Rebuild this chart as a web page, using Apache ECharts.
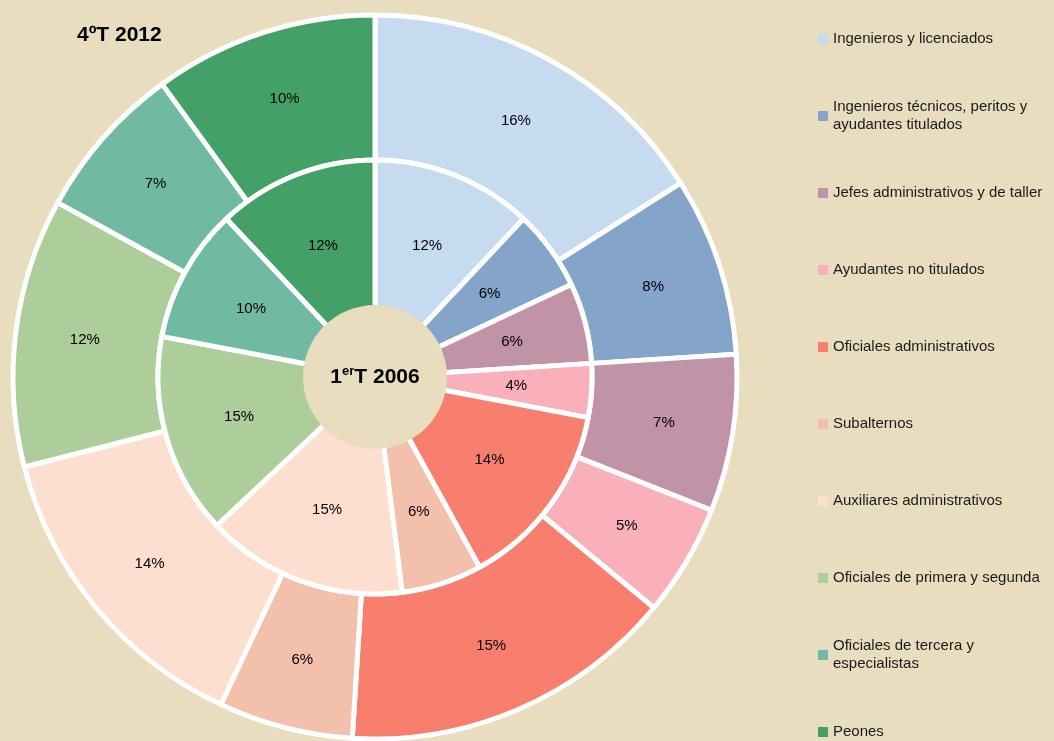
<!DOCTYPE html>
<html>
<head>
<meta charset="utf-8">
<script src="https://cdn.jsdelivr.net/npm/echarts@6/dist/echarts.min.js"></script>
<style>
  html, body { margin: 0; padding: 0; background: #E8DDBE; }
  #chart { width: 1054px; height: 741px; }
</style>
</head>
<body>
<div id="chart"></div>
<script>
// categorías (mismo orden en los dos anillos y en la leyenda)
const categories = [
  'Ingenieros y licenciados',
  'Ingenieros técnicos, peritos y\nayudantes titulados',
  'Jefes administrativos y de taller',
  'Ayudantes no titulados',
  'Oficiales administrativos',
  'Subalternos',
  'Auxiliares administrativos',
  'Oficiales de primera y segunda',
  'Oficiales de tercera y\nespecialistas',
  'Peones'
];
// anillo interior: 1erT 2006 (%)
const values2006 = [12, 6, 6, 4, 14, 6, 15, 15, 10, 12];
// anillo exterior: 4ºT 2012 (%)
const values2012 = [16, 8, 7, 5, 15, 6, 14, 12, 7, 10];
const colors = [
  '#C6DBF0', '#84A4CA', '#C093A6', '#F9B0BA', '#F87F6D',
  '#F2C0AB', '#FDDFCF', '#ADCD9A', '#70B9A3', '#43A067'
];

const bg = '#E8DDBE';
const center = [375, 377];
const font = 'Liberation Sans, Arial, sans-serif';

const toData = (vals) => vals.map((v, i) => ({
  name: categories[i],
  value: v,
  itemStyle: { color: colors[i] }
}));

const ringLabel = {
  show: true,
  position: 'inside',
  formatter: '{c}%',
  color: '#000',
  fontSize: 15,
  fontFamily: font
};

// una leyenda por elemento para mantener el espaciado uniforme
const legends = categories.map((name, i) => {
  const twoLines = name.indexOf('\n') >= 0;
  return {
    orient: 'vertical',
    left: 818,
    top: 39 + 77 * i - (twoLines ? 27 : 9),
    padding: 0,
    itemWidth: 10,
    itemHeight: 10,
    icon: 'rect',
    itemStyle: { borderWidth: 0 },
    data: [name],
    textStyle: {
      color: '#1a1a1a',
      fontSize: 15,
      lineHeight: 18,
      fontFamily: font,
      padding: twoLines ? [18, 0, 0, 0] : 0
    }
  };
});

const myChart = echarts.init(document.getElementById('chart'));
const option = {
  backgroundColor: bg,
  animation: false,
  title: {
    text: '4ºT 2012',
    left: 72,
    top: 20,
    textStyle: {
      color: '#000',
      fontSize: 21,
      fontWeight: 'bold',
      fontFamily: font
    }
  },
  legend: legends,
  series: [
    {
      name: '4ºT 2012',
      type: 'pie',
      center: center,
      radius: [217, 362],
      startAngle: 90,
      clockwise: true,
      avoidLabelOverlap: false,
      itemStyle: { borderColor: '#fff', borderWidth: 5 },
      label: ringLabel,
      labelLine: { show: false },
      emphasis: { scale: false },
      data: toData(values2012)
    },
    {
      name: '1erT 2006',
      type: 'pie',
      center: center,
      radius: [60, 217],
      startAngle: 90,
      clockwise: true,
      avoidLabelOverlap: false,
      itemStyle: { borderColor: '#fff', borderWidth: 5 },
      label: Object.assign({}, ringLabel),
      labelLine: { show: false },
      emphasis: { scale: false },
      data: toData(values2006)
    },
    {
      // círculo central con el rótulo del anillo interior
      type: 'pie',
      center: center,
      radius: [0, 72],
      z: 5,
      silent: true,
      itemStyle: { color: bg, borderWidth: 0 },
      label: {
        show: true,
        position: 'center',
        formatter: '{a|1}{b|er}{a|T 2006}',
        rich: {
          a: {
            fontSize: 21, fontWeight: 'bold', color: '#000', lineHeight: 24,
            fontFamily: font
          },
          b: {
            fontSize: 13, fontWeight: 'bold', color: '#000', lineHeight: 13,
            verticalAlign: 'top',
            fontFamily: font
          }
        }
      },
      labelLine: { show: false },
      data: [{ name: '1erT 2006', value: 1 }]
    }
  ]
};
myChart.setOption(option);
</script>
</body>
</html>
